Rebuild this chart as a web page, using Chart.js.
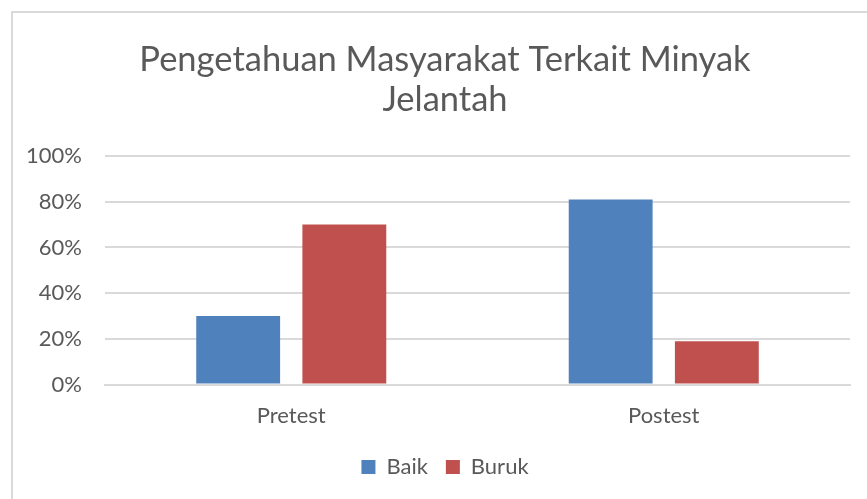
<!DOCTYPE html>
<html>
<head>
<meta charset="utf-8">
<script src="https://cdn.jsdelivr.net/npm/chart.js@4.4.0/dist/chart.umd.min.js"></script>
<style>
  html, body { margin: 0; padding: 0; background: #fff; }
  #wrap { position: relative; width: 867px; height: 499px; overflow: hidden; }
  #frame { position: absolute; left: 11px; top: 11px; width: 900px; height: 540px; border: 2px solid #d9d9d9; box-sizing: border-box; }
  canvas { position: absolute; left: 0; top: 0; }
</style>
</head>
<body>
<div id="wrap">
  <div id="frame"></div>
  <canvas id="chart" width="890" height="499"></canvas>
</div>
<script>
const categories = ['Pretest', 'Postest']
const baik = [30, 81]
const buruk = [70, 19]
const yTicks = [0, 20, 40, 60, 80, 100]

const textColor = '#595959'
const fontFamily = 'Lato, Carlito, "Liberation Sans", sans-serif'

new Chart(document.getElementById('chart'), {
  type: 'bar',
  data: {
    labels: categories,
    datasets: [
      { label: 'Baik', data: baik, backgroundColor: '#4f81bd', categoryPercentage: 0.57, barPercentage: 0.79 },
      { label: 'Buruk', data: buruk, backgroundColor: '#c0504d', categoryPercentage: 0.57, barPercentage: 0.79 }
    ]
  },
  options: {
    responsive: false,
    animation: false,
    layout: { padding: { left: 0, right: 0, top: 0, bottom: 11 } },
    plugins: {
      title: {
        display: true,
        text: ['Pengetahuan Masyarakat Terkait Minyak', 'Jelantah'],
        color: textColor,
        font: { family: fontFamily, size: 34.5, weight: 'normal', lineHeight: 1.16 },
        padding: { top: 40, bottom: 36 }
      },
      legend: {
        position: 'bottom',
        labels: {
          color: textColor,
          font: { family: fontFamily, size: 22 },
          boxWidth: 14,
          boxHeight: 14,
          padding: 18
        }
      },
      tooltip: { enabled: false }
    },
    scales: {
      x: {
        afterFit: (scale) => { scale.height -= 9 },
        grid: { display: false, drawTicks: false },
        border: { color: '#d9d9d9', width: 2 },
        ticks: { color: textColor, font: { family: fontFamily, size: 22 }, padding: 18 }
      },
      y: {
        min: 0,
        max: 100,
        afterBuildTicks: (scale) => { scale.ticks = yTicks.map(v => ({ value: v })) },
        afterFit: (scale) => { scale.width = 105 },
        grid: { color: '#d9d9d9', lineWidth: 2, drawTicks: false },
        border: { display: false },
        ticks: { color: textColor, font: { family: fontFamily, size: 22 }, padding: 23, callback: v => v + '%' }
      },
      // empty right margin so title and legend stay centred on the frame
      spacer: {
        position: 'right',
        afterFit: (scale) => { scale.width = 40 },
        grid: { display: false },
        border: { display: false },
        ticks: { display: false }
      }
    }
  }
})
</script>
</body>
</html>
